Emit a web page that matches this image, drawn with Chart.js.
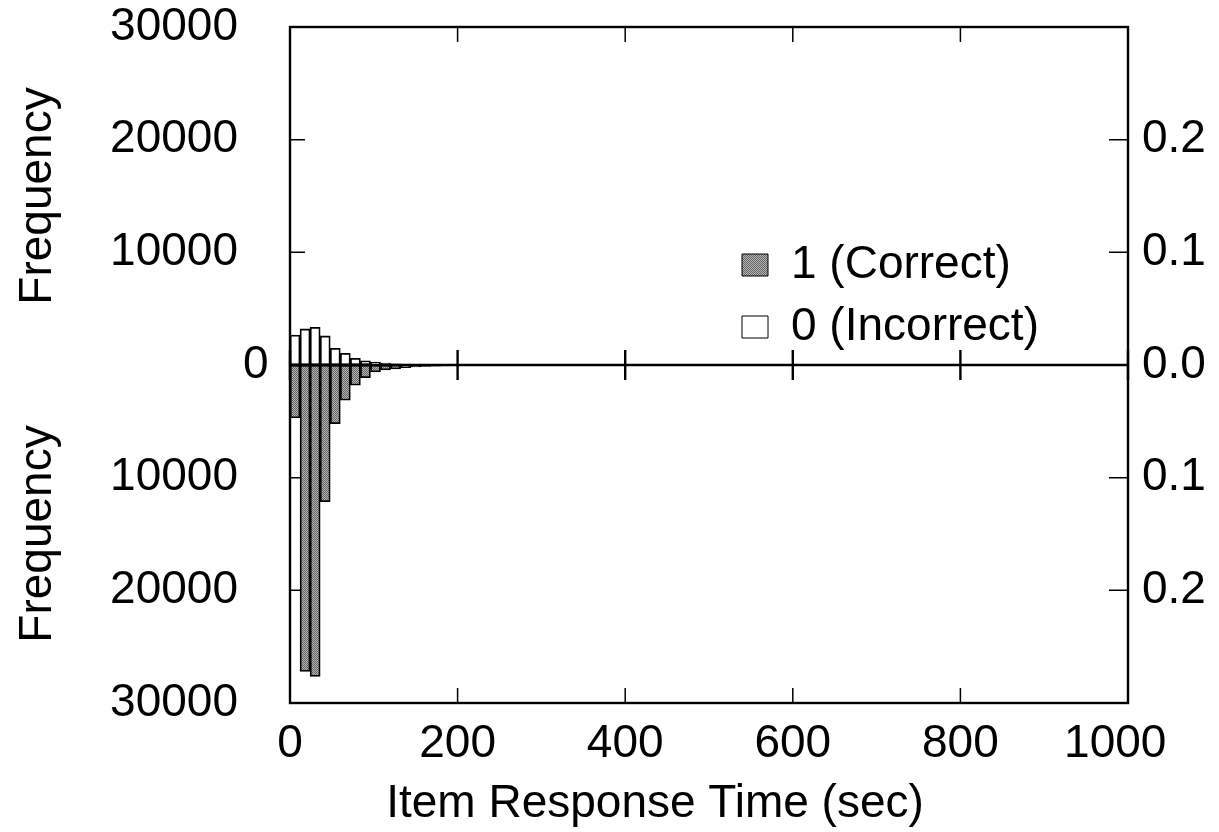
<!DOCTYPE html>
<html>
<head>
<meta charset="utf-8">
<script src="https://cdn.jsdelivr.net/npm/chart.js@4.4.1/dist/chart.umd.min.js"></script>
<style>
  body { margin: 0; background: #fff; }
</style>
</head>
<body>
<canvas id="myChart" width="1219" height="832"></canvas>
<script>
//Bloque de datos: centro de cada clase de 12 seg
const binCenters = [6, 18, 30, 42, 54, 66, 78, 90, 102, 114, 126, 138, 150, 162, 174,
                    186, 198, 210, 222, 234, 246, 258, 270, 282, 294, 306, 318, 330, 342, 354];
const incorrect = [2660, 3200, 3340, 2580, 1490, 1040, 600, 370, 250, 160, 100, 80, 50, 40, 30,
                   25, 20, 18, 15, 12, 10, 10, 8, 8, 6, 6, 5, 4, 4, 3];
const correct = [4700, 27200, 27650, 12130, 5210, 3130, 1800, 1130, 620, 440, 350, 240, 180, 130, 100,
                 80, 60, 50, 40, 30, 25, 20, 18, 15, 12, 10, 8, 6, 5, 4];
const seriesNames = ['1 (Correct)', '0 (Incorrect)'];
const yTitle = 'Frequency';
const xTitle = 'Item Response Time (sec)';

Chart.defaults.font.family = "'Liberation Sans', Arial, sans-serif";
Chart.defaults.font.size = 46;
Chart.defaults.color = '#000';

const canvas = document.getElementById('myChart');
const ctx = canvas.getContext('2d');

//Relleno punteado gris
function stipple() {
  const c = document.createElement('canvas');
  c.width = 2; c.height = 2;
  const g = c.getContext('2d');
  g.fillStyle = '#b4b4b4';
  g.fillRect(0, 0, 2, 2);
  g.fillStyle = '#646464';
  g.fillRect(0, 0, 1, 1);
  g.fillRect(1, 1, 1, 1);
  return ctx.createPattern(c, 'repeat');
}

//Marcas hacia dentro, marco, linea del cero y titulos
const marcas = {
  id: 'marcas',
  afterLayout(chart) {
    const lg = chart.legend;
    const a = chart.chartArea;
    lg.left = a.left + 436;
    lg.top = a.top + 199;
    lg.right = lg.left + lg.width;
    lg.bottom = lg.top + 400;
  },
  beforeDatasetsDraw(chart) {
    const {ctx, chartArea: a, scales} = chart;
    ctx.save();
    ctx.strokeStyle = '#000';
    ctx.lineWidth = 1.5;
    ctx.beginPath();
    scales.x.ticks.forEach(t => {
      const px = scales.x.getPixelForValue(t.value);
      ctx.moveTo(px, a.top); ctx.lineTo(px, a.top + 15);
      ctx.moveTo(px, a.bottom); ctx.lineTo(px, a.bottom - 15);
    });
    scales.y.ticks.forEach(t => {
      const py = scales.y.getPixelForValue(t.value);
      ctx.moveTo(a.left, py); ctx.lineTo(a.left + 15, py);
    });
    scales.y2.ticks.forEach(t => {
      const py = scales.y2.getPixelForValue(t.value);
      ctx.moveTo(a.right, py); ctx.lineTo(a.right - 19, py);
    });
    ctx.stroke();
    ctx.restore();
  },
  afterDatasetsDraw(chart) {
    const {ctx, chartArea: a, scales} = chart;
    const y0 = scales.y.getPixelForValue(0);
    ctx.save();
    ctx.strokeStyle = '#000';
    ctx.lineWidth = 2.4;
    ctx.strokeRect(a.left, a.top, a.width, a.height);
    ctx.beginPath();
    ctx.moveTo(a.left, y0); ctx.lineTo(a.right, y0);
    scales.x.ticks.forEach(t => {
      const px = scales.x.getPixelForValue(t.value);
      ctx.moveTo(px, y0 - 15); ctx.lineTo(px, y0 + 15);
    });
    ctx.stroke();
    ctx.restore();
  },
  afterDraw(chart) {
    const {ctx, chartArea: a, scales} = chart;
    const y0 = scales.y.getPixelForValue(0);
    ctx.save();
    ctx.fillStyle = '#000';
    ctx.font = "46px 'Liberation Sans', Arial, sans-serif";
    ctx.textAlign = 'center';
    ctx.textBaseline = 'middle';
    [(a.top + y0) / 2, (y0 + a.bottom) / 2].forEach(cy => {
      ctx.save();
      ctx.translate(38, cy);
      ctx.rotate(-Math.PI / 2);
      ctx.fillText(yTitle, 0, 0);
      ctx.restore();
    });
    ctx.fillText(xTitle, a.left + 365, a.bottom + 101);
    ctx.restore();
  }
};

const noGrid = { display: false, drawTicks: false };
const noBorder = { display: false };

const data = {
  datasets: [{
    label: seriesNames[0],
    data: binCenters.map((c, i) => ({ x: c, y: -correct[i] })),
    backgroundColor: stipple(),
    borderColor: '#000',
    borderWidth: 1.8,
    borderSkipped: false,
    grouped: false,
    barPercentage: 1,
    categoryPercentage: 1
  }, {
    label: seriesNames[1],
    data: binCenters.map((c, i) => ({ x: c, y: incorrect[i] })),
    backgroundColor: '#fff',
    borderColor: '#000',
    borderWidth: 1.8,
    borderSkipped: false,
    grouped: false,
    barPercentage: 1,
    categoryPercentage: 1
  }]
};

const config = {
  type: 'bar',
  data: data,
  plugins: [marcas],
  options: {
    responsive: false,
    animation: false,
    layout: { padding: { left: 0, right: 0, top: 27, bottom: 0 } },
    plugins: {
      tooltip: { enabled: false },
      legend: {
        position: 'chartArea',
        align: 'start',
        labels: {
          boxWidth: 26,
          boxHeight: 22,
          padding: 16,
          font: { size: 46 },
          generateLabels(chart) {
            const items = Chart.defaults.plugins.legend.labels.generateLabels(chart);
            items.forEach(it => { it.lineWidth = 1; });
            return items;
          }
        }
      }
    },
    scales: {
      x: {
        type: 'linear',
        min: 0,
        max: 1000,
        offset: false,
        grid: noGrid,
        border: noBorder,
        ticks: { stepSize: 200, padding: 14, maxRotation: 0, callback: v => (v === 1000 ? '1000  ' : String(v)) },
        afterFit: s => { s.height = 129; }
      },
      y: {
        type: 'linear',
        position: 'left',
        weight: 1,
        min: -30000,
        max: 30000,
        grid: noGrid,
        border: noBorder,
        ticks: { stepSize: 10000, padding: 52, callback: v => (v === 0 ? '' : String(Math.abs(v))) },
        afterFit: s => { s.width = 290; s.paddingTop = 0; s.paddingBottom = 0; }
      },
      //eje extra solo para el "0", mas pegado al marco
      yZero: {
        type: 'linear',
        position: 'left',
        weight: 0,
        min: -30000,
        max: 30000,
        grid: noGrid,
        border: noBorder,
        ticks: { stepSize: 30000, mirror: true, padding: -47, callback: v => (v === 0 ? '0' : '') },
        afterFit: s => { s.width = 0; s.paddingTop = 0; s.paddingBottom = 0; }
      },
      y2: {
        type: 'linear',
        position: 'right',
        min: -0.3,
        max: 0.3,
        grid: noGrid,
        border: noBorder,
        ticks: { stepSize: 0.1, padding: 14, callback: v => (Math.abs(v) > 0.25 ? '' : Math.abs(v).toFixed(1)) },
        afterFit: s => { s.width = 91; s.paddingTop = 0; s.paddingBottom = 0; }
      }
    }
  }
};

const myChart = new Chart(ctx, config);
</script>
</body>
</html>
